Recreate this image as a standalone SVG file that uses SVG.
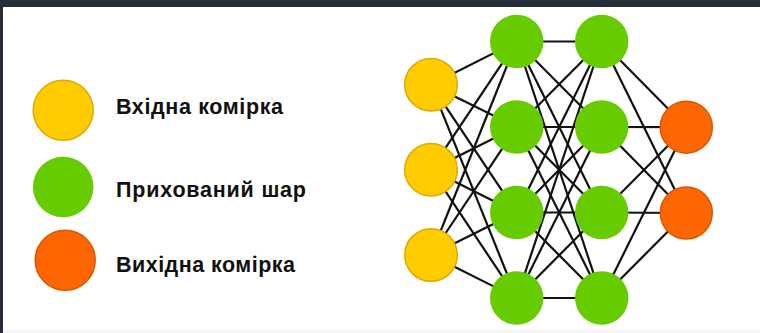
<svg xmlns="http://www.w3.org/2000/svg" width="760" height="333" viewBox="0 0 760 333">
<style>
.in{fill:#FFCC00;stroke:#DDAA00;stroke-width:1.5}
.hid{fill:#66CC00}
.out{fill:#FF6600;stroke:#D85800;stroke-width:1.5}
.lbl{font-family:"Liberation Sans",Arial,sans-serif;font-weight:bold;font-size:21.5px;fill:#111}
#edges line{stroke:#111;stroke-width:2.2}
</style>
<rect x="0" y="0" width="760" height="333" fill="#ffffff"/>
<rect x="0" y="330" width="760" height="3" fill="#f4f5f6"/>
<rect x="0" y="0" width="760" height="7" fill="#262d38"/>
<rect x="0" y="0" width="3" height="333" fill="#262d38"/>

<g id="legend-input"><circle class="in" cx="63.2" cy="110.3" r="30"/><text class="lbl" x="116" y="114" textLength="167" lengthAdjust="spacing">Вхідна комірка</text></g>
<g id="legend-hidden"><circle class="hid" cx="63.2" cy="187" r="30.3"/><text class="lbl" x="116" y="197" textLength="190" lengthAdjust="spacing">Прихований шар</text></g>
<g id="legend-output"><circle class="out" cx="65.2" cy="260.3" r="30"/><text class="lbl" x="116" y="272" textLength="179" lengthAdjust="spacing">Вихідна комірка</text></g>

<g id="edges">
<line x1="431" y1="84.7" x2="516.7" y2="41.5"/><line x1="431" y1="84.7" x2="516.7" y2="127"/><line x1="431" y1="84.7" x2="516.7" y2="212.5"/><line x1="431" y1="84.7" x2="516.7" y2="298"/>
<line x1="431" y1="169.7" x2="516.7" y2="41.5"/><line x1="431" y1="169.7" x2="516.7" y2="127"/><line x1="431" y1="169.7" x2="516.7" y2="212.5"/><line x1="431" y1="169.7" x2="516.7" y2="298"/>
<line x1="431" y1="255" x2="516.7" y2="41.5"/><line x1="431" y1="255" x2="516.7" y2="127"/><line x1="431" y1="255" x2="516.7" y2="212.5"/><line x1="431" y1="255" x2="516.7" y2="298"/>
<line x1="516.7" y1="41.5" x2="601.7" y2="41.5"/><line x1="516.7" y1="41.5" x2="601.7" y2="127"/><line x1="516.7" y1="41.5" x2="601.7" y2="212.5"/><line x1="516.7" y1="41.5" x2="601.7" y2="298"/>
<line x1="516.7" y1="127" x2="601.7" y2="41.5"/><line x1="516.7" y1="127" x2="601.7" y2="127"/><line x1="516.7" y1="127" x2="601.7" y2="212.5"/><line x1="516.7" y1="127" x2="601.7" y2="298"/>
<line x1="516.7" y1="212.5" x2="601.7" y2="41.5"/><line x1="516.7" y1="212.5" x2="601.7" y2="127"/><line x1="516.7" y1="212.5" x2="601.7" y2="212.5"/><line x1="516.7" y1="212.5" x2="601.7" y2="298"/>
<line x1="516.7" y1="298" x2="601.7" y2="41.5"/><line x1="516.7" y1="298" x2="601.7" y2="127"/><line x1="516.7" y1="298" x2="601.7" y2="212.5"/><line x1="516.7" y1="298" x2="601.7" y2="298"/>
<line x1="601.7" y1="41.5" x2="686.3" y2="127.2"/><line x1="601.7" y1="41.5" x2="686.3" y2="213"/>
<line x1="601.7" y1="127" x2="686.3" y2="127.2"/><line x1="601.7" y1="127" x2="686.3" y2="213"/>
<line x1="601.7" y1="212.5" x2="686.3" y2="127.2"/><line x1="601.7" y1="212.5" x2="686.3" y2="213"/>
<line x1="601.7" y1="298" x2="686.3" y2="127.2"/><line x1="601.7" y1="298" x2="686.3" y2="213"/>
</g>

<g id="in1"><circle class="in" cx="431" cy="84.7" r="26.3"/></g>
<g id="in2"><circle class="in" cx="431" cy="169.7" r="26.3"/></g>
<g id="in3"><circle class="in" cx="431" cy="255" r="26.3"/></g>
<g id="h1a"><circle class="hid" cx="516.7" cy="41.5" r="26.7"/></g>
<g id="h1b"><circle class="hid" cx="516.7" cy="127" r="26.7"/></g>
<g id="h1c"><circle class="hid" cx="516.7" cy="212.5" r="26.7"/></g>
<g id="h1d"><circle class="hid" cx="516.7" cy="298" r="26.7"/></g>
<g id="h2a"><circle class="hid" cx="601.7" cy="41.5" r="26.7"/></g>
<g id="h2b"><circle class="hid" cx="601.7" cy="127" r="26.7"/></g>
<g id="h2c"><circle class="hid" cx="601.7" cy="212.5" r="26.7"/></g>
<g id="h2d"><circle class="hid" cx="601.7" cy="298" r="26.7"/></g>
<g id="out1"><circle class="out" cx="686.3" cy="127.2" r="26"/></g>
<g id="out2"><circle class="out" cx="686.3" cy="213" r="26"/></g>
</svg>
